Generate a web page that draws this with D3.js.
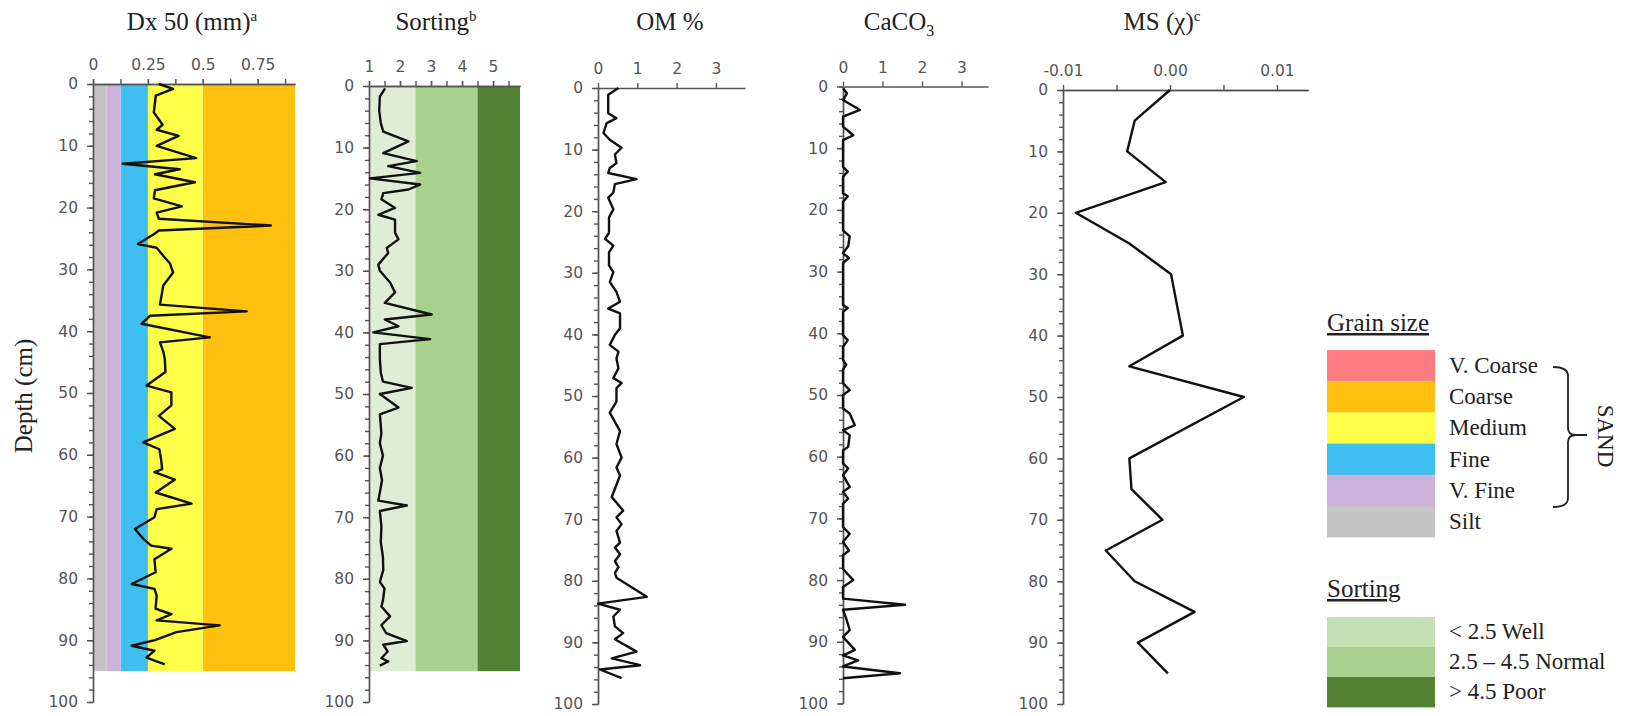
<!DOCTYPE html>
<html>
<head>
<meta charset="utf-8">
<script src="https://cdn.jsdelivr.net/npm/d3@7"></script>
<style>
  body { margin: 0; background: #fff; }
  .tick text { font-family: 'DejaVu Sans', sans-serif; font-size: 15.5px; fill: #555; }
  .axis path, .axis line { stroke: #555; stroke-width: 1.4; }
  .serif { font-family: 'Liberation Serif', 'Times New Roman', serif; fill: #222; }
</style>
</head>
<body>
<svg id="chart" width="1627" height="716"></svg>
<script>
// depth (cm) / value pairs
const dxDepth = [0, 0.8, 1.9, 4.6, 6.6, 7.4, 8.4, 10, 12, 12.9, 13.8, 14.6, 15.9, 17.2, 18.5, 19.8, 20.8, 21.8, 22.9, 23.7,
  24.3, 25.9, 26.5, 27.8, 29, 30.5, 32.6, 35.7, 36.8, 37.5, 38.8, 41, 41.8, 43.3, 44.5, 46.6, 48.8, 49.9, 52, 53.7,
  55.8, 56.9, 58, 59.1, 60.7, 62.3, 62.8, 64, 66.1, 67.9, 68.8, 70.1, 72, 73.6, 74.7, 75.2, 76.9, 79, 80.9, 81.7,
  82.8, 84.9, 85.8, 86.8, 87.6, 88.7, 90, 90.9, 91.7, 92.8, 93.9]
const dxValue = [0.30, 0.365, 0.286, 0.277, 0.317, 0.29, 0.39, 0.29, 0.47, 0.136, 0.395, 0.282, 0.464, 0.282, 0.277, 0.405, 0.29, 0.30, 0.81, 0.30,
  0.277, 0.205, 0.29, 0.32, 0.35, 0.365, 0.32, 0.305, 0.70, 0.26, 0.221, 0.532, 0.305, 0.32, 0.327, 0.33, 0.244, 0.357, 0.357, 0.30,
  0.373, 0.30, 0.229, 0.302, 0.31, 0.315, 0.28, 0.373, 0.286, 0.449, 0.29, 0.28, 0.191, 0.229, 0.265, 0.357, 0.28, 0.285, 0.176, 0.28,
  0.29, 0.285, 0.357, 0.29, 0.577, 0.38, 0.282, 0.176, 0.28, 0.244, 0.327]

const sortDepth = [0.4, 1.7, 4, 6, 7.4, 9, 10.9, 12.2, 13, 14.1, 15, 16, 16.8, 17.4, 18.4, 19.8, 20.9, 21.7, 23.8, 24.9,
  26.3, 27.1, 29, 30, 31.9, 33.5, 35.2, 37.1, 37.9, 39, 40, 41.1, 41.9, 44.3, 46.5, 48, 49, 50, 52.2, 53.3,
  56.4, 58, 60, 62, 64, 66, 67.3, 68.1, 69, 71.5, 74, 76.5, 78.6, 80.5, 81.6, 83.5, 84.5, 86.1, 87.5, 88.8,
  90.1, 90.7, 91.8, 92.9, 93.4, 94.1]
const sortValue = [1.52, 1.35, 1.33, 1.38, 1.46, 2.27, 1.46, 2.54, 1.62, 2.65, 1.03, 2.65, 2.27, 1.46, 1.40, 1.84, 1.30, 1.84, 1.84, 1.95,
  1.57, 1.62, 1.30, 1.35, 1.68, 1.84, 1.51, 3.02, 1.51, 1.95, 1.14, 2.97, 1.35, 1.35, 1.38, 1.45, 2.38, 1.35, 1.95, 1.35,
  1.40, 1.35, 1.45, 1.35, 1.42, 1.35, 1.30, 2.22, 1.35, 1.40, 1.38, 1.45, 1.46, 1.35, 1.50, 1.45, 1.40, 1.68, 1.40, 1.55,
  2.22, 1.46, 1.60, 1.40, 1.62, 1.35]

const omDepth = [0, 1.1, 4.1, 4.9, 5.7, 7.3, 8.4, 9.7, 10.8, 12.2, 13, 13.8, 14.8, 15.6, 17, 17.8, 19.7, 21, 23.5, 24.5,
  25.6, 26.7, 28.8, 29.9, 31.5, 33.1, 34.7, 35.8, 36.6, 39, 40.1, 41.7, 42.8, 43.9, 45.5, 47.1, 47.9, 48.7, 50.9, 52.7,
  55.7, 57.8, 60, 61.6, 62.9, 66.4, 68.6, 69.7, 70.8, 71.9, 73.8, 74.6, 75.7, 76.8, 77.8, 78.7, 79.5, 82.6, 83.7, 84.7,
  85.8, 87.4, 88.5, 89.5, 91.5, 92.6, 93.7, 94.4, 95.8]
const omValue = [0.52, 0.26, 0.26, 0.47, 0.22, 0.14, 0.30, 0.60, 0.43, 0.47, 0.30, 0.26, 0.98, 0.43, 0.39, 0.26, 0.39, 0.28, 0.28, 0.18,
  0.39, 0.28, 0.28, 0.39, 0.30, 0.47, 0.56, 0.26, 0.56, 0.56, 0.43, 0.30, 0.52, 0.47, 0.52, 0.39, 0.60, 0.47, 0.47, 0.30,
  0.56, 0.47, 0.60, 0.47, 0.56, 0.35, 0.64, 0.47, 0.60, 0.47, 0.56, 0.43, 0.56, 0.43, 0.52, 0.43, 0.47, 1.24, 0.0, 0.56,
  0.39, 0.43, 0.64, 0.43, 0.98, 0.35, 1.07, 0.05, 0.60]

const caDepth = [0.3, 1.1, 2.2, 3.8, 4.9, 6.5, 7.9, 8.7, 13, 13.8, 14.6, 17.3, 17.8, 18.7, 23.3, 24.3, 25.9, 27, 27.8, 28.6,
  35.4, 35.9, 36.5, 40.3, 41.1, 42.2, 44.3, 45.1, 45.9, 48.1, 49.2, 50, 52.2, 53, 54.9, 55.7, 56.5, 58.4, 59, 61.1,
  61.9, 63, 64.9, 65.7, 66.8, 67.6, 71.4, 72.5, 73.8, 75.2, 76, 78.2, 80, 81.1, 83, 84, 84.8, 86.2, 88.1, 89.2,
  91.3, 92.2, 93, 94, 95.1, 95.9]
const caValue = [0, 0.1, 0, 0.43, 0, 0, 0.26, 0, 0, 0.12, 0, 0, 0.12, 0, 0, 0.17, 0.13, 0, 0.15, 0,
  0, 0.12, 0, 0, 0.12, 0, 0, 0.08, 0, 0, 0.17, 0, 0, 0.17, 0.30, 0, 0.17, 0.13, 0, 0,
  0.13, 0, 0.17, 0, 0.13, 0, 0, 0.17, 0, 0.15, 0, 0, 0.26, 0, 0, 1.57, 0, 0.08, 0.17, 0,
  0.30, 0, 0.38, 0, 1.44, 0]

const msDepth = [0, 5, 10, 15, 20, 25, 30, 40, 45, 50, 60, 65, 70, 75, 80, 85, 90, 95]
const msValue = [0, -0.0033, -0.004, -0.0004, -0.0088, -0.0038, 0.0001, 0.0012, -0.0038, 0.0069,
  -0.0038, -0.0036, -0.0007, -0.006, -0.0033, 0.0023, -0.003, -0.0002]

// grain size classes (mm) and sorting classes
const grainLabels = ['V. Coarse', 'Coarse', 'Medium', 'Fine', 'V. Fine', 'Silt']
const grainBreaks = [2, 1, 0.5, 0.25, 0.125, 0.0625, 0]
const grainColors = ['#ff7c80', '#ffc010', '#ffff4a', '#3fbef0', '#cbb3dc', '#c4c4c4']
const sortingLabels = ['< 2.5 Well', '2.5 \u2013 4.5 Normal', '> 4.5 Poor']
const sortingBreaks = [1, 2.5, 4.5, 10]
const sortingColors = ['#deedd5', '#a9d18e', '#548235']
const sortingLegendColors = ['#c5e0b4', '#a9d18e', '#548235']
const bandDepth = 95

const depthTicks = d3.range(0, 101, 10)
const depthMinor = d3.range(0, 101, 2)

const svg = d3.select('#chart')

const panels = [
  { title: 'Dx 50 (mm)', sup: 'a', cx: 192, top: 84, height: 618, left: 93, right: 295, domain: [0, 0.92],
    ticks: [0, 0.25, 0.5, 0.75], minor: d3.range(0, 0.9, 0.125), fmt: d => d === 0 ? '0' : String(d),
    depth: dxDepth, value: dxValue, bands: 'grain' },
  { title: 'Sorting', sup: 'b', cx: 436, top: 86, height: 616, left: 369, right: 520, domain: [1, 5.87],
    ticks: [1, 2, 3, 4, 5], minor: d3.range(1, 5.9, 0.5), fmt: d3.format('d'),
    depth: sortDepth, value: sortValue, bands: 'sorting' },
  { title: 'OM %', cx: 670, top: 88, height: 616, left: 598, right: 745, domain: [0, 3.74],
    ticks: [0, 1, 2, 3], minor: [], fmt: d3.format('d'), depth: omDepth, value: omValue },
  { title: 'CaCO', sub: '3', cx: 899, top: 86.5, height: 617, left: 843, right: 988, domain: [0, 3.67],
    ticks: [0, 1, 2, 3], minor: [], fmt: d3.format('d'), depth: caDepth, value: caValue },
  { title: 'MS (\u03c7)', sup: 'c', cx: 1162, top: 90, height: 614, left: 1063, right: 1308, domain: [-0.01, 0.0129],
    ticks: [-0.01, 0, 0.01], minor: [-0.005, 0.005], fmt: d => d.toFixed(2), depth: msDepth, value: msValue }
]

panels.forEach(drawPanel)

function drawPanel(p) {
  const x = d3.scaleLinear().domain(p.domain).range([p.left, p.right])
  const y = d3.scaleLinear().domain([0, 100]).range([p.top, p.top + p.height])
  const g = svg.append('g')

  /** 背景色带 */
  if (p.bands === 'grain') {
    const rows = grainColors.map((c, i) => ({ lo: grainBreaks[i + 1], hi: grainBreaks[i], color: c }))
    drawBands(g, rows, x, y)
  } else if (p.bands === 'sorting') {
    const rows = sortingColors.map((c, i) => ({ lo: sortingBreaks[i], hi: sortingBreaks[i + 1], color: c }))
    drawBands(g, rows, x, y)
  }

  /** 坐标轴 */
  g.append('g').attr('class', 'axis')
    .attr('transform', `translate(${p.left},0)`)
    .call(d3.axisLeft(y).tickValues(depthMinor).tickSize(4).tickSizeOuter(0).tickFormat(''))
  g.append('g').attr('class', 'axis')
    .attr('transform', `translate(${p.left},0)`)
    .call(d3.axisLeft(y).tickValues(depthTicks).tickSize(6).tickSizeOuter(0).tickPadding(9))
  if (p.minor.length) {
    g.append('g').attr('class', 'axis')
      .attr('transform', `translate(0,${p.top})`)
      .call(d3.axisTop(x).tickValues(p.minor).tickSize(5).tickSizeOuter(0).tickFormat(''))
  }
  g.append('g').attr('class', 'axis')
    .attr('transform', `translate(0,${p.top})`)
    .call(d3.axisTop(x).tickValues(p.ticks).tickSize(5).tickSizeOuter(0).tickPadding(9).tickFormat(p.fmt))

  /** 数据线 */
  const line = d3.line().x(d => x(d[1])).y(d => y(d[0]))
  g.append('path')
    .datum(d3.zip(p.depth, p.value))
    .attr('d', line)
    .attr('fill', 'none')
    .attr('stroke', '#111')
    .attr('stroke-width', 2.4)
    .attr('stroke-linejoin', 'round')

  /** 标题 */
  const t = g.append('text').attr('class', 'serif')
    .attr('x', p.cx).attr('y', 30)
    .attr('text-anchor', 'middle')
    .attr('font-size', 25)
    .text(p.title)
  if (p.sup) t.append('tspan').attr('dy', -9).attr('font-size', 15).text(p.sup)
  if (p.sub) t.append('tspan').attr('dy', 6).attr('font-size', 16).text(p.sub)
}

function drawBands(g, rows, x, y) {
  const [d0, d1] = x.domain()
  g.selectAll(null).data(rows).join('rect')
    .attr('x', d => x(Math.max(d.lo, d0)))
    .attr('width', d => Math.max(0, x(Math.min(d.hi, d1)) - x(Math.max(d.lo, d0))))
    .attr('y', y(0))
    .attr('height', y(bandDepth) - y(0))
    .attr('fill', d => d.color)
}

// depth label
svg.append('text').attr('class', 'serif')
  .attr('transform', 'translate(32,396) rotate(-90)')
  .attr('text-anchor', 'middle')
  .attr('font-size', 25)
  .text('Depth (cm)')

/** 图例 */
const legend = svg.append('g')
const swX = 1327, swW = 108, labX = 1449

legend.append('text').attr('class', 'serif')
  .attr('x', swX).attr('y', 331).attr('font-size', 25)
  .attr('text-decoration', 'underline')
  .text('Grain size')

legend.selectAll('.grain').data(grainLabels).join('g')
  .attr('class', 'grain')
  .each(function (d, i) {
    const top = 350 + i * 31.2
    d3.select(this).append('rect')
      .attr('x', swX).attr('y', top).attr('width', swW).attr('height', 31.4)
      .attr('fill', grainColors[i])
    d3.select(this).append('text').attr('class', 'serif')
      .attr('x', labX).attr('y', top + 23).attr('font-size', 23)
      .text(d)
  })

// brace for SAND
legend.append('path')
  .attr('d', 'M1553,367 Q1568,367 1568,376 L1568,428 Q1568,435 1576,435 L1587,435 M1576,435 Q1568,435 1568,442 L1568,498 Q1568,507 1553,507')
  .attr('fill', 'none').attr('stroke', '#222').attr('stroke-width', 1.8)

legend.append('text').attr('class', 'serif')
  .attr('transform', 'translate(1598,436) rotate(90)')
  .attr('text-anchor', 'middle')
  .attr('font-size', 23)
  .text('SAND')

legend.append('text').attr('class', 'serif')
  .attr('x', swX).attr('y', 597).attr('font-size', 25)
  .attr('text-decoration', 'underline')
  .text('Sorting')

legend.selectAll('.sorting').data(sortingLabels).join('g')
  .attr('class', 'sorting')
  .each(function (d, i) {
    const top = 617 + i * 30
    d3.select(this).append('rect')
      .attr('x', swX).attr('y', top).attr('width', swW).attr('height', 30.4)
      .attr('fill', sortingLegendColors[i])
    d3.select(this).append('text').attr('class', 'serif')
      .attr('x', labX).attr('y', top + 22).attr('font-size', 23)
      .text(d)
  })
</script>
</body>
</html>
